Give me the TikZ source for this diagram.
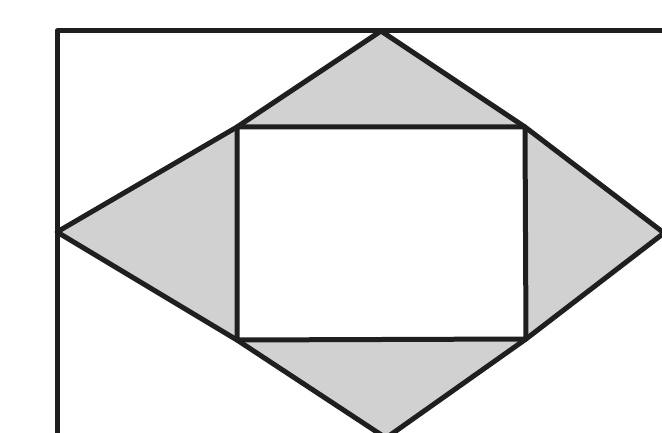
\documentclass[tikz,border=0pt]{standalone}
\begin{document}
\begin{tikzpicture}[x=1pt,y=-1pt,
  edge/.style={draw=black!88,line width=5pt,line join=round,line cap=round},
  shade/.style={fill=black!18}]
\useasboundingbox (0,0) rectangle (662,433);
\clip (0,0) rectangle (662,433);
\fill[white] (0,0) rectangle (662,433);
% diamond vertices and inner rectangle corners
\coordinate (L) at (57,232);
\coordinate (T) at (381,31);
\coordinate (R) at (664,233);
\coordinate (B) at (386,438);
\coordinate (TL) at (237,127);
\coordinate (TR) at (525,127);
\coordinate (BR) at (526,339);
\coordinate (BL) at (237,340);
% gray triangles
\path[shade] (L) -- (TL) -- (T) -- (TR) -- (R) -- (BR) -- (B) -- (BL) -- cycle;
\fill[white] (TL) -- (TR) -- (BR) -- (BL) -- cycle;
% outer frame (top and left sides visible)
\draw[edge] (57,445) -- (57,31) -- (680,31);
% diamond
\draw[edge] (L) -- (TL) -- (T) -- (TR) -- (R) -- (BR) -- (B) -- (BL) -- cycle;
% inner rectangle
\draw[edge] (TL) -- (TR) -- (BR) -- (BL) -- cycle;
\end{tikzpicture}
\end{document}
